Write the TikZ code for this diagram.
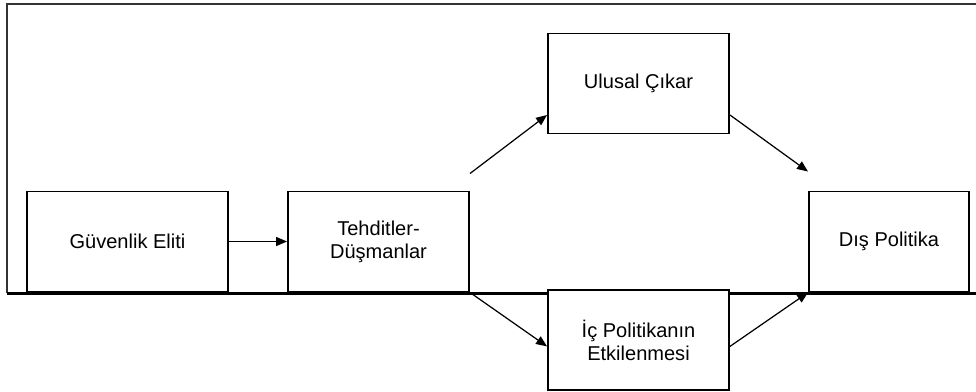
\documentclass[tikz,border=0pt]{standalone}
\usepackage{fontspec}
\setmainfont{Liberation Sans}
\usetikzlibrary{arrows.meta,positioning}

\begin{document}
\begin{tikzpicture}[
	kutu/.style={draw,fill=white,line width=1.1pt,minimum height=2cm,align=center,inner sep=0pt,font=\fontsize{11.4}{13}\selectfont},
	ok/.style={-{Triangle[length=0.22cm,width=0.18cm]},line width=0.7pt}]
	\useasboundingbox (0,0) rectangle (19.52,-7.82);
	\draw [line width=1.1pt,color=black!80] (19.52,-0.08) -- (0.14,-0.08) -- (0.14,-5.86);
	\draw [line width=1.7pt] (0.14,-5.86) -- (19.52,-5.86);
	\node (guvenlik) at (2.55,-4.83) [kutu,minimum width=4.02cm] {Güvenlik Eliti};
	\node (tehdit) at (7.57,-4.83) [kutu,minimum width=3.62cm] {Tehditler-\\Düşmanlar};
	\node (ulusal) at (12.77,-1.67) [kutu,minimum width=3.62cm] {Ulusal Çıkar};
	\node (icpol) at (12.77,-6.80) [kutu,minimum width=3.62cm] {İç Politikanın\\Etkilenmesi};
	\node (dispol) at (17.78,-4.83) [kutu,minimum width=3.2cm] {Dış Politika};
	\coordinate [above=0.34cm of tehdit.north east] (tehdit ust);
	\coordinate [above=0.38cm of dispol.north west] (dispol ust);
	\draw [ok] (guvenlik.east) -- (tehdit.west);
	\draw [ok] (tehdit ust) -- (ulusal.199);
	\draw [ok] (ulusal.341) -- (dispol ust);
	\draw [ok] (tehdit.south east) -- (icpol.184);
	\draw [ok] (icpol.356) -- (dispol.south west);
\end{tikzpicture}
\end{document}
